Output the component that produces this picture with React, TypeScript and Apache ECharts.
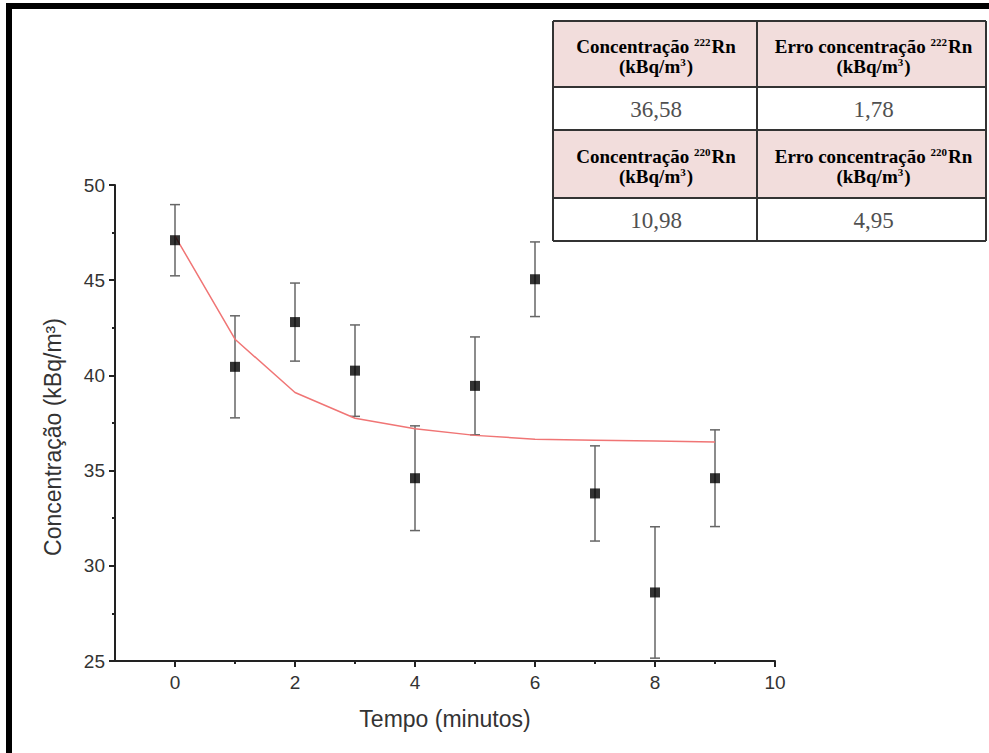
import React, { useEffect, useRef } from "react";
import * as echarts from "echarts";

// ---- data ----
const times = [0, 1, 2, 3, 4, 5, 6, 7, 8, 9];
const concentration = [47.1, 40.45, 42.8, 40.25, 34.6, 39.45, 45.05, 33.8, 28.6, 34.6];
const errors = [1.87, 2.68, 2.05, 2.4, 2.75, 2.57, 1.96, 2.5, 3.45, 2.54];
const fitValues = [47.32, 41.9, 39.1, 37.75, 37.2, 36.85, 36.65, 36.6, 36.55, 36.5];

const xMajorTicks = [0, 2, 4, 6, 8, 10];
const xMinorTicks = [1, 3, 5, 7, 9];

const isotopes = ["222", "220"];
const tableConcentration = ["36,58", "10,98"];
const tableError = ["1,78", "4,95"];

const xTitle = "Tempo (minutos)";
const yTitle = "Concentração (kBq/m³)";

export default function App() {
  const ref = useRef<HTMLDivElement>(null);

  useEffect(() => {
    if (!ref.current) return;
    const chart = echarts.init(ref.current, undefined, { renderer: "svg" });

    const axisColor = "#222";
    const labelColor = "#333";
    const sans = "'Liberation Sans', Arial, sans-serif";
    const serif = "'Liberation Serif', 'Times New Roman', serif";

    // table geometry
    const tx0 = 553, tx1 = 757, tx2 = 986;
    const rowY = [21, 87, 130, 198, 241];
    const pink = "#f2dddc";
    const border = "#333";

    const rich = {
      b: { fontFamily: serif, fontWeight: "bold", fontSize: 19, color: "#222", lineHeight: 20 },
      s: { fontFamily: serif, fontWeight: "bold", fontSize: 11, color: "#222", lineHeight: 20, verticalAlign: "top", padding: [0, 1, 0, 0] },
    };

    const tableElems: any[] = [];
    isotopes.forEach((iso, i) => {
      const hTop = rowY[i * 2];
      const hBot = rowY[i * 2 + 1];
      const vBot = rowY[i * 2 + 2];
      tableElems.push({
        type: "rect",
        shape: { x: tx0, y: hTop, width: tx2 - tx0, height: hBot - hTop },
        style: { fill: pink },
      });
      const headers = [
        `{b|Concentração }{s|${iso}}{b|Rn}\n{b|(kBq/m}{s|3}{b|)}`,
        `{b|Erro concentração }{s|${iso}}{b|Rn}\n{b|(kBq/m}{s|3}{b|)}`,
      ];
      const cx = [(tx0 + tx1) / 2 + 1, (tx1 + tx2) / 2 + 2];
      headers.forEach((h, j) => {
        tableElems.push({
          type: "text",
          x: cx[j],
          y: (hTop + hBot) / 2 + 2,
          style: { text: h, rich, align: "center", verticalAlign: "middle" },
        });
      });
      [tableConcentration[i], tableError[i]].forEach((v, j) => {
        tableElems.push({
          type: "text",
          x: cx[j],
          y: (hBot + vBot) / 2 + 1,
          style: {
            text: v,
            fontFamily: serif,
            fontSize: 23,
            fill: "#505050",
            align: "center",
            verticalAlign: "middle",
          },
        });
      });
    });
    rowY.forEach((y) => {
      tableElems.push({
        type: "line",
        shape: { x1: tx0, y1: y, x2: tx2, y2: y },
        style: { stroke: border, lineWidth: 2 },
      });
    });
    [tx0, tx1, tx2].forEach((x) => {
      tableElems.push({
        type: "line",
        shape: { x1: x, y1: rowY[0], x2: x, y2: rowY[rowY.length - 1] },
        style: { stroke: border, lineWidth: 2 },
      });
    });

    const errData = times.map((t, i) => [t, concentration[i] - errors[i], concentration[i] + errors[i]]);

    chart.setOption({
      animation: false,
      backgroundColor: "#fff",
      grid: { left: 115, top: 185, width: 660, height: 476 },
      xAxis: [
        {
          type: "value",
          min: -1,
          max: 10,
          axisLine: { show: true, onZero: false, lineStyle: { color: axisColor, width: 2 } },
          axisTick: { show: true, length: 6, customValues: xMajorTicks, lineStyle: { color: axisColor, width: 2 } },
          axisLabel: { customValues: xMajorTicks, color: labelColor, fontSize: 19, fontFamily: sans, margin: 12 },
          splitLine: { show: false },
          name: xTitle,
          nameLocation: "middle",
          nameGap: 46,
          nameTextStyle: { fontSize: 23, fontFamily: sans, color: "#333" },
        },
        {
          type: "value",
          position: "bottom",
          min: -1,
          max: 10,
          axisLine: { show: false },
          axisTick: { show: true, length: 3, customValues: xMinorTicks, lineStyle: { color: axisColor, width: 2 } },
          axisLabel: { show: false },
          splitLine: { show: false },
        },
      ],
      yAxis: {
        type: "value",
        min: 25,
        max: 50,
        interval: 5,
        axisLine: { show: true, onZero: false, lineStyle: { color: axisColor, width: 2 } },
        axisTick: { show: true, length: 6, lineStyle: { color: axisColor, width: 2 } },
        minorTick: { show: true, splitNumber: 2, length: 3, lineStyle: { color: axisColor, width: 2 } },
        axisLabel: { color: labelColor, fontSize: 19, fontFamily: sans, margin: 10 },
        splitLine: { show: false },
      },
      series: [
        {
          type: "custom",
          name: "erro",
          clip: true,
          renderItem: (params: any, api: any) => {
            const x = api.value(0);
            const lo = api.value(1);
            const hi = api.value(2);
            const pHi = api.coord([x, hi]);
            const pLo = api.coord([x, lo]);
            const w = 5;
            const st = { stroke: "#666", lineWidth: 1.5 };
            return {
              type: "group",
              children: [
                { type: "line", shape: { x1: pHi[0], y1: pHi[1], x2: pLo[0], y2: pLo[1] }, style: st },
                { type: "line", shape: { x1: pHi[0] - w, y1: pHi[1], x2: pHi[0] + w, y2: pHi[1] }, style: st },
                { type: "line", shape: { x1: pLo[0] - w, y1: pLo[1], x2: pLo[0] + w, y2: pLo[1] }, style: st },
              ],
            };
          },
          data: errData,
          z: 1,
        },
        {
          type: "line",
          name: "ajuste",
          data: times.map((t, i) => [t, fitValues[i]]),
          showSymbol: false,
          symbol: "none",
          lineStyle: { color: "#f07575", width: 1.5 },
          z: 2,
        },
        {
          type: "scatter",
          name: "Concentração",
          data: times.map((t, i) => [t, concentration[i]]),
          symbol: "rect",
          symbolSize: 10,
          itemStyle: { color: "#000" },
          z: 3,
        },
      ],
      graphic: [
        {
          type: "rect",
          shape: { x: 9, y: 6, width: 1200, height: 1200 },
          style: { fill: "none", stroke: "#000", lineWidth: 6 },
          z: 10,
        },
        {
          type: "text",
          x: 53,
          y: 437,
          rotation: Math.PI / 2,
          style: {
            text: yTitle,
            fontFamily: sans,
            fontSize: 23,
            fill: "#333",
            align: "center",
            verticalAlign: "middle",
          },
        },
        ...tableElems,
      ],
    });

    return () => chart.dispose();
  }, []);

  return (
    <div
      ref={ref}
      style={{ position: "absolute", left: 0, top: 0, width: 989, height: 753 }}
    />
  );
}
